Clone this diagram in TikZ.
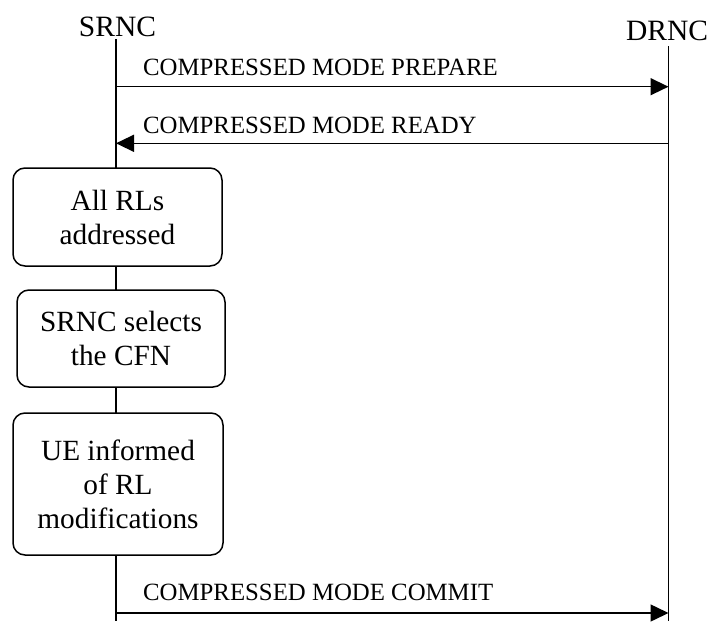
\documentclass[tikz,border=0pt]{standalone}
\usepackage{fontspec}
\setmainfont{Liberation Serif}
\usetikzlibrary{arrows.meta}
\begin{document}
\begin{tikzpicture}[x=1pt,y=-1pt,
  msg/.style={draw, line width=1.5pt, -{Triangle[length=18pt,width=17pt]}},
  life/.style={draw, line width=1.5pt},
  actor/.style={font=\fontsize{29.5}{36}\selectfont, inner sep=0pt, anchor=base},
  msglabel/.style={font=\fontsize{24.8}{30}\selectfont, anchor=base west, inner sep=0pt},
  procbox/.style={draw, line width=1.5pt, rounded corners=12pt, align=center,
    font=\fontsize{29.3}{34}\selectfont, fill=white, inner sep=0pt}
]
\useasboundingbox (0,0) rectangle (709,621);

% actors
\node[actor] (srnc) at (117.5,36) {SRNC};
\node[actor] (drnc) at (667,40) {DRNC};

% lifelines
\coordinate (s0) at (116,39);
\coordinate (s1) at (116,621);
\coordinate (d0) at (668.5,46);
\coordinate (d1) at (668.5,621);
\draw[life] (s0) -- (s1);
\draw[life] (d0) -- (d1);

% messages
\coordinate (p1) at (116,86.7);
\coordinate (p2) at (668.5,86.7);
\draw[msg] (p1) -- (p2);
\node[msglabel] (lp) at (143,75) {COMPRESSED MODE PREPARE};

\coordinate (r1) at (668.5,143.3);
\coordinate (r2) at (116,143.3);
\draw[msg] (r1) -- (r2);
\node[msglabel] (lr) at (143,133) {COMPRESSED MODE READY};

\coordinate (c1) at (116,613);
\coordinate (c2) at (668.5,613);
\draw[msg] (c1) -- (c2);
\node[msglabel] (lc) at (143,600) {COMPRESSED MODE COMMIT};

% procedure boxes
\node[procbox, minimum width=209pt, minimum height=98pt] (b1) at (117.5,217) {All RLs\\addressed};
\node[procbox, minimum width=208pt, minimum height=97pt] (b2) at (121,338.5) {SRNC selects\\the CFN};
\node[procbox, minimum width=210pt, minimum height=142pt] (b3) at (118,484) {UE informed\\of RL\\modifications};
\end{tikzpicture}
\end{document}
